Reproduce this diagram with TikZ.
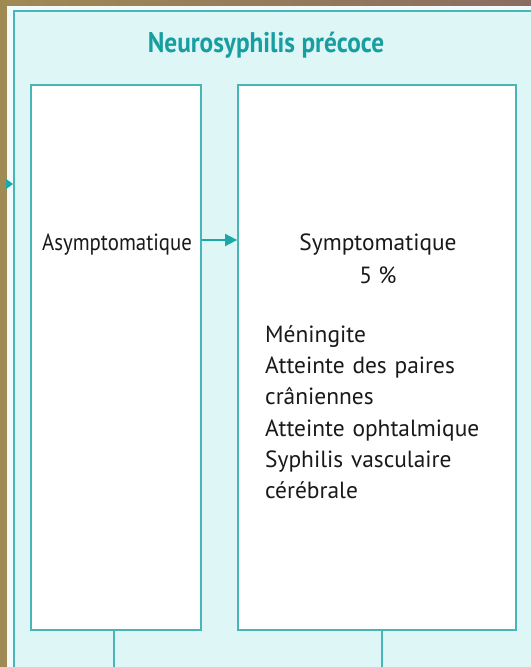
\documentclass[tikz,border=0pt]{standalone}
\usepackage{fontspec}
\setmainfont{PT Sans}
\newfontfamily\narrowfont{PT Sans}[FakeStretch=0.89]
\usepackage{tikz}
\usetikzlibrary{arrows.meta, positioning}
\definecolor{panelfill}{RGB}{222,246,246}
\definecolor{tealline}{RGB}{72,182,182}
\definecolor{tealarrow}{RGB}{28,168,168}
\definecolor{titleteal}{RGB}{24,158,160}
\definecolor{bggold}{RGB}{160,138,84}
\definecolor{bgbrown}{RGB}{92,60,32}
\definecolor{bgmauve}{RGB}{140,108,98}
\newcommand{\lbl}{\fontsize{23.5}{31.5}\selectfont}

\begin{document}
\begin{tikzpicture}[x=1bp, y=-1bp,
    box/.style={draw=tealline, fill=white, line width=1.8bp, inner sep=0pt},
    arr/.style={-{Triangle[length=12bp,width=12bp]}, line width=1.8bp, tealarrow},
    shortarr/.style={-{Triangle[length=7bp,width=10bp]}, line width=1.8bp, tealarrow},
    link/.style={line width=1.8bp, tealline},
    txt/.style={font=\lbl, inner sep=0pt, text=black!90},
]
\useasboundingbox (0,0) rectangle (531,667);
% backdrop and outer panel
\shade[left color=bggold, middle color=bgbrown, right color=bgmauve] (0,0) rectangle (531,667);
\fill[white!60!panelfill] (7,6) rectangle (560,700);
\node[draw=tealline, fill=panelfill, line width=1.8bp, anchor=north west,
      minimum width=545bp, minimum height=690bp, inner sep=0pt] (panel) at (13,10) {};
\node[font=\narrowfont\bfseries\fontsize{28.5}{30}\selectfont, text=titleteal] (title) at (266,45) {Neurosyphilis précoce};

% the two stages
\node[box, minimum width=170bp, minimum height=545bp] (asy) at (116,357.5) {};
\node[box, minimum width=278bp, minimum height=545bp] (sym) at (377,357.5) {};

\node[txt, font=\narrowfont\lbl, anchor=base] (asytxt) at (117,250) {Asymptomatique};
\node[txt, anchor=base] (symtxt) at (378,250) {Symptomatique};
\node[txt, anchor=base] (pct) at ([yshift=-34pt]symtxt.base) {5 \%};
\node[txt, anchor=base west, text width=245bp, align=left] (signs) at (265,342)
  {Méningite\\Atteinte des paires\\crâniennes\\Atteinte ophtalmique\\Syphilis vasculaire\\cérébrale};

% connectors
\coordinate (feed) at (7,184);
\draw[shortarr] (feed) -- (feed -| panel.west);
\draw[arr] (asy.east |- 0,240) -- (sym.west |- 0,240);
\draw[link] ([xshift=-2pt]asy.south) -- ++(0,45);
\draw[link] ([xshift=5pt]sym.south) -- ++(0,45);
\end{tikzpicture}
\end{document}
